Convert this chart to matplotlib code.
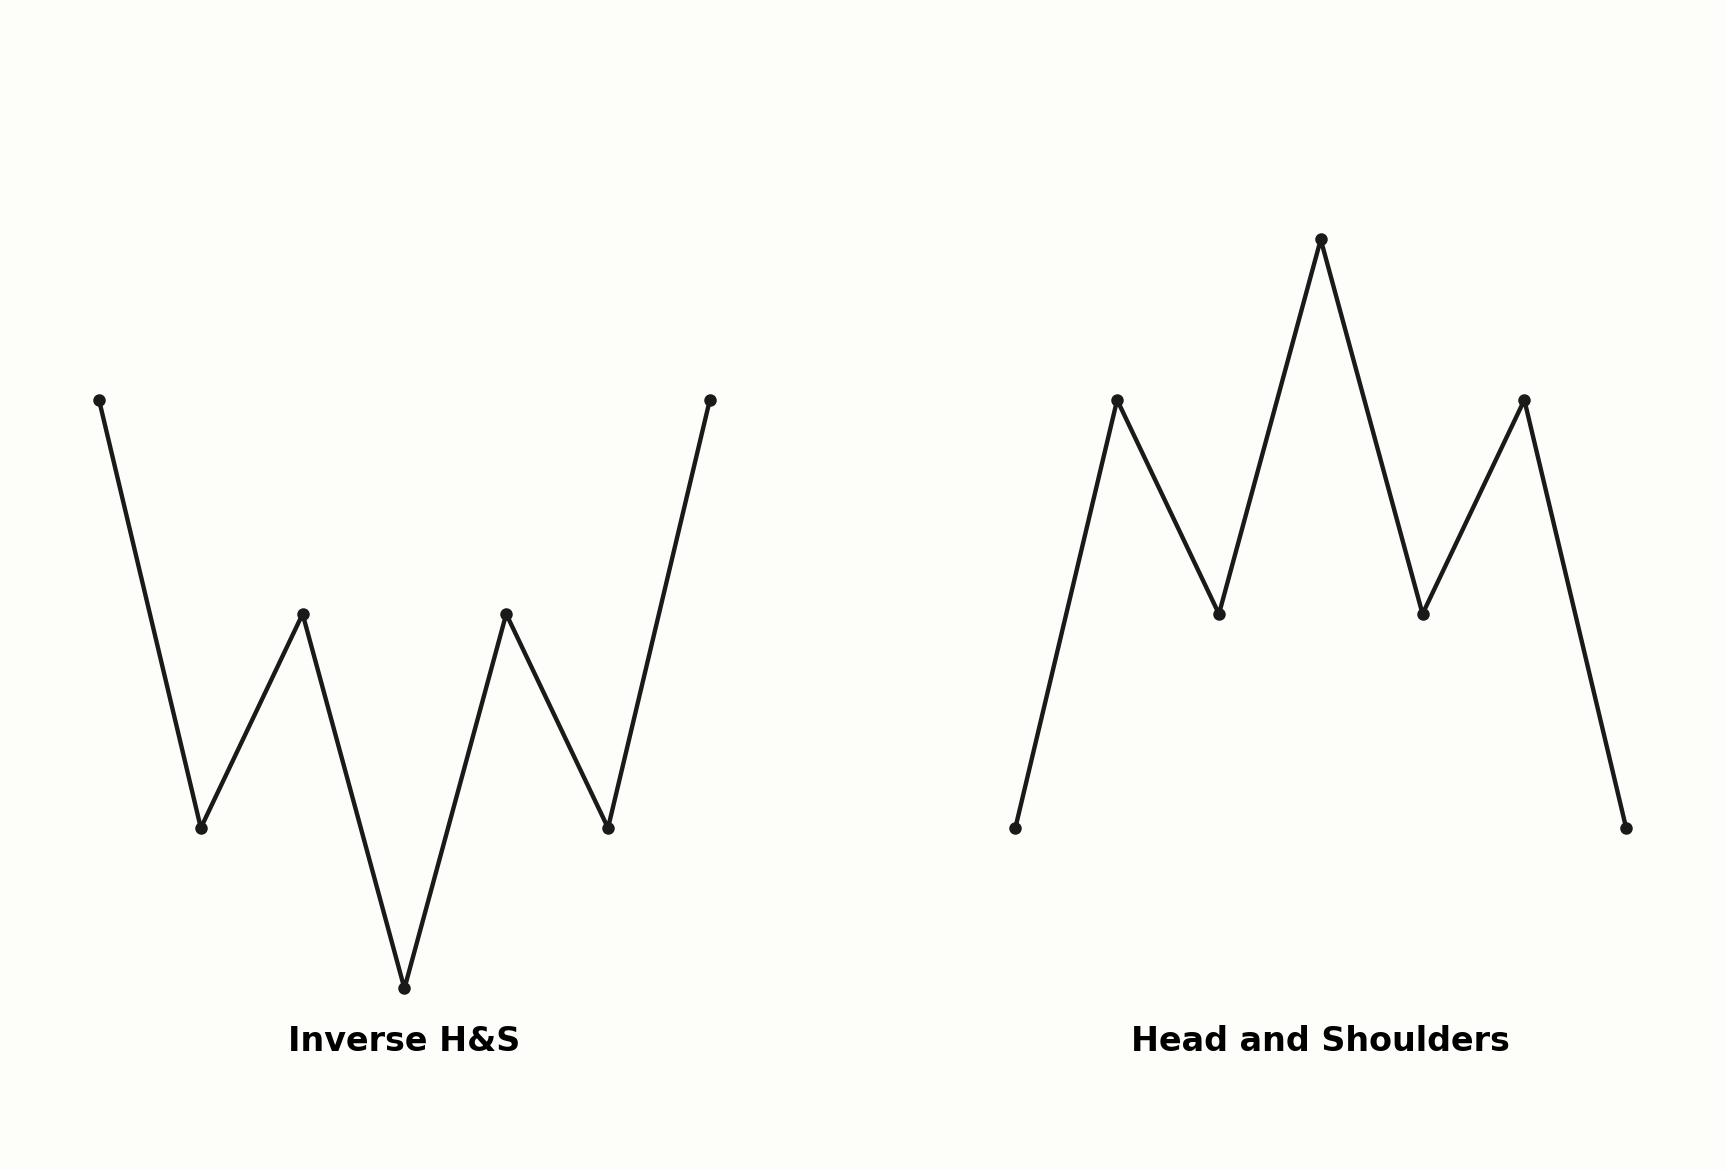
import matplotlib.pyplot as plt

BG = "#fdfdf9"
INK = "#1a1a1a"

# swing points, x = bar index, y = price level
X_POINTS = [0, 1, 2, 3, 4, 5, 6]
INVERSE_HS = [3, 1, 2, 0.25, 2, 1, 3]
HEAD_SHOULDERS = [1, 3, 2, 3.75, 2, 3, 1]
TITLES = ["Inverse H&S", "Head and Shoulders"]
LABEL_X = 3
LABEL_Y = 0

fig = plt.figure(figsize=(11.5, 7.8), dpi=150, facecolor=BG)
ax_left = fig.add_axes([0.0338, 0.018, 0.4013, 0.9145])
ax_right = fig.add_axes([0.565, 0.018, 0.4013, 0.9145])

for ax, values, title in zip([ax_left, ax_right], [INVERSE_HS, HEAD_SHOULDERS], TITLES):
    ax.set_facecolor(BG)
    ax.plot(X_POINTS, values, color=INK, linewidth=2.1, marker="o", markersize=5)
    ax.text(LABEL_X, LABEL_Y, title, ha="center", va="center",
            fontsize=16, fontweight="bold", color="black")
    ax.set_xlim(-0.4, 6.4)
    ax.set_ylim(-0.5, 4.5)
    ax.axis("off")

fig.savefig("out.png", dpi=150, facecolor=BG)
